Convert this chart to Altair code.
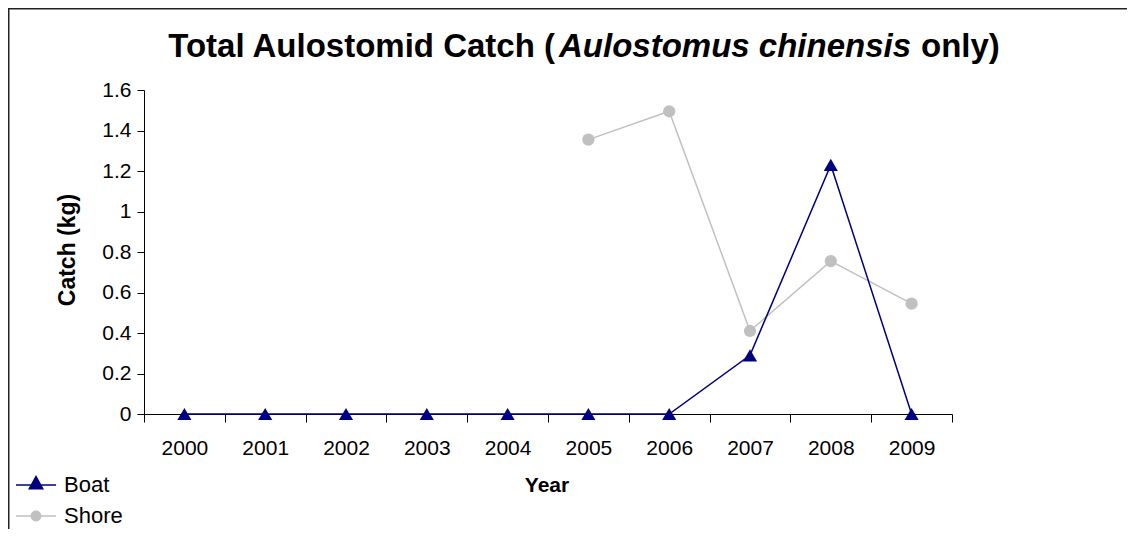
import altair as alt
import pandas as pd

# ---------------- data ----------------
years = ["2000", "2001", "2002", "2003", "2004", "2005", "2006", "2007", "2008", "2009"]
boat = [0, 0, 0, 0, 0, 0, 0, 0.29, 1.23, 0]
shore = [None, None, None, None, None, 1.355, 1.495, 0.41, 0.755, 0.545]
series_names = ["Boat", "Shore"]
series_colors = ["#000080", "#C0C0C0"]
y_ticks = [0, 0.2, 0.4, 0.6, 0.8, 1.0, 1.2, 1.4, 1.6]
title_parts = ["Total Aulostomid Catch (", "Aulostomus chinensis", "only)"]
x_title = "Year"
y_title = "Catch (kg)"

rows = []
for name, vals in zip(series_names, [boat, shore]):
    for yr, v in zip(years, vals):
        if v is not None:
            rows.append({"year": yr, "value": v, "series": name})
df = pd.DataFrame(rows)

FONT = "Liberation Sans"
W, H = 808, 324
PL, PT = 136, 82

x_enc = alt.X(
    "year:O",
    sort=years,
    bandPosition=0.5,
    scale=alt.Scale(type="band", domain=years, paddingInner=0, paddingOuter=0),
    axis=alt.Axis(title=None, labelAngle=0, tickBand="extent", tickSize=8,
                  labelPadding=15, labelFontSize=21, labelFont=FONT,
                  labelColor="black", domainColor="black", tickColor="black",
                  grid=False),
)
y_enc = alt.Y(
    "value:Q",
    scale=alt.Scale(domain=[0, 1.6], nice=False, zero=True),
    axis=alt.Axis(title=None, values=y_ticks, format="~g", tickSize=7,
                  labelPadding=6, labelFontSize=21, labelFont=FONT,
                  labelColor="black", domainColor="black", tickColor="black",
                  grid=False),
)

base = alt.Chart(df)

shore_line = base.transform_filter("datum.series == 'Shore'").mark_line(
    color=series_colors[1], strokeWidth=1.5).encode(x=x_enc, y=y_enc)
shore_pts = base.transform_filter("datum.series == 'Shore'").mark_point(
    shape="circle", filled=True, size=150, color=series_colors[1], opacity=1
).encode(x=x_enc, y=y_enc)
boat_line = base.transform_filter("datum.series == 'Boat'").mark_line(
    color=series_colors[0], strokeWidth=1.5).encode(x=x_enc, y=y_enc)
boat_pts = base.transform_filter("datum.series == 'Boat'").mark_point(
    shape="triangle-up", filled=True, size=200, color=series_colors[0], opacity=1
).encode(x=x_enc, y=y_enc)

# legend symbols: line through a marker (units: 1 = 20px at size 1600)
boat_path = "M-1,-0.0375H1V0.0375H-1Z M-0.4,0.23L0,-0.5L0.4,0.23Z"
shore_path = ("M-1,-0.0375H1V0.0375H-1Z "
              "M0.27,0A0.27,0.27 0 1,1 -0.27,0A0.27,0.27 0 1,1 0.27,0Z")

leg = alt.Legend(title=None, orient="none", legendX=-128, legendY=375,
                 symbolSize=1600, symbolStrokeWidth=0, labelFontSize=22,
                 labelFont=FONT, labelColor="black", labelOffset=8,
                 rowPadding=0, padding=0)
legend_layer = base.transform_filter("datum.series == 'none'").mark_point(
    filled=True, opacity=1
).encode(
    x=x_enc, y=y_enc,
    fill=alt.Fill("series:N", scale=alt.Scale(domain=series_names, range=series_colors), legend=leg),
    shape=alt.Shape("series:N", scale=alt.Scale(domain=series_names, range=[boat_path, shore_path]), legend=leg),
)

one = pd.DataFrame({"k": [0]})

def txt(s, px, py, **kw):
    return alt.Chart(pd.DataFrame({"t": [s]})).mark_text(
        font=FONT, color="black", **kw
    ).encode(text="t:N", x=alt.value(px - 8 - PL), y=alt.value(py - 8 - PT))

t1 = txt(title_parts[0], 555, 57, align="right", baseline="alphabetic", fontSize=33, fontWeight="bold")
t2 = txt(title_parts[1], 559, 57, align="left", baseline="alphabetic", fontSize=33, fontWeight="bold", fontStyle="italic")
t3 = txt(title_parts[2], 921, 57, align="left", baseline="alphabetic", fontSize=33, fontWeight="bold")
xt = txt(x_title, 547, 491.7, align="center", baseline="alphabetic", fontSize=21, fontWeight="bold")
yt = txt(y_title, 75, 250, align="center", baseline="alphabetic", fontSize=23, fontWeight="bold", angle=270)

border_left = alt.Chart(one).mark_rule(color="#222222", strokeWidth=1.5).encode(
    x=alt.value(0.75 - PL), y=alt.value(-PT), y2=alt.value(H + 120))
border_top = alt.Chart(one).mark_rule(color="#222222", strokeWidth=1.5).encode(
    y=alt.value(0.75 - PT), x=alt.value(-PL), x2=alt.value(W + 180))

chart = alt.layer(
    border_left, border_top,
    shore_line, shore_pts, boat_line, boat_pts, legend_layer,
    t1, t2, t3, xt, yt,
).properties(
    width=W, height=H,
    background="white",
    autosize=alt.AutoSizeParams(type="none"),
    padding={"left": PL, "top": PT, "right": 175, "bottom": 115},
).configure_view(stroke=None)

chart.save("out.html", embed_options={"renderer": "svg", "actions": False})
